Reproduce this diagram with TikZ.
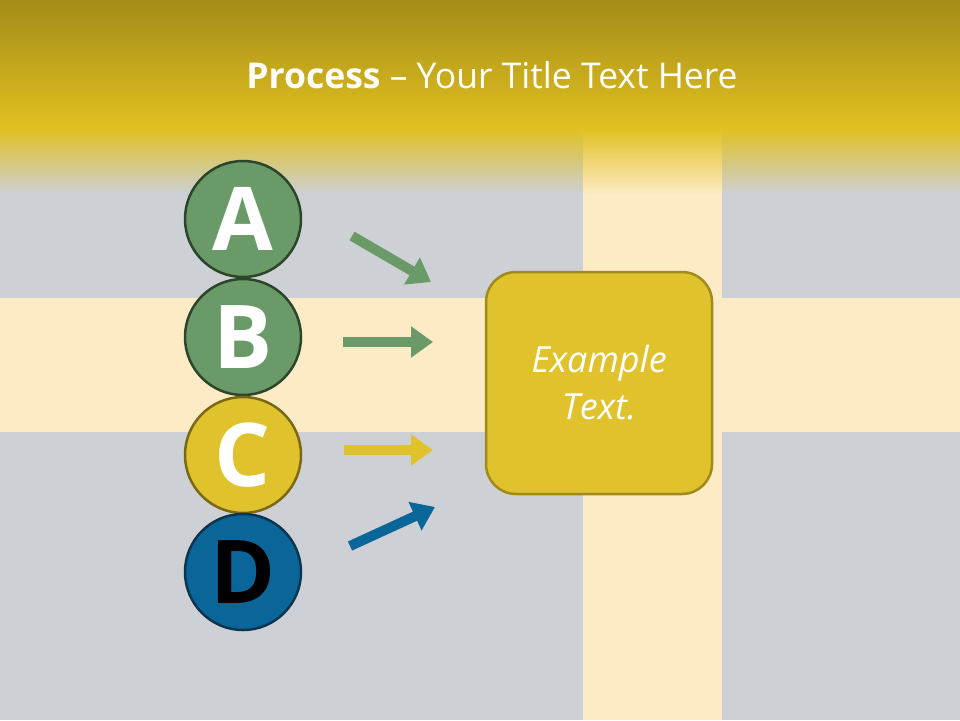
\documentclass[tikz,border=0pt]{standalone}
\usepackage{fontspec}
\setmainfont{Open Sans}
\usetikzlibrary{arrows.meta,fadings}
\definecolor{bggray}{HTML}{CDD1D5}
\definecolor{cream}{HTML}{FDEBC5}
\definecolor{hdtop}{HTML}{A08818}
\definecolor{hdbot}{HTML}{E0C020}
\definecolor{grn}{HTML}{6A9A68}
\definecolor{grnd}{HTML}{2C462C}
\definecolor{ylw}{HTML}{E0C22C}
\definecolor{ylwd}{HTML}{7A6812}
\definecolor{boxd}{HTML}{A08A1A}
\definecolor{blu}{HTML}{0A6699}
\definecolor{blud}{HTML}{0E3550}
\tikzfading[name=fadedown, top color=transparent!0, bottom color=transparent!100]
\tikzset{
  letter/.style={circle, minimum size=116pt, inner sep=0pt, line width=2.5pt,
    font=\fontsize{88}{88}\selectfont\bfseries},
  arr/.style={line width=10pt, -{Triangle[width=30pt,length=22pt]}},
}
\begin{document}
\begin{tikzpicture}[x=1pt,y=-1pt]
\useasboundingbox (0,0) rectangle (960,720);
\fill[bggray] (0,0) rectangle (960,720);
\fill[cream] (0,298) rectangle (960,432);
\fill[cream] (583,128) rectangle (722,720);
\shade[top color=hdtop, bottom color=hdbot] (-10,-10) rectangle (970,128);
\fill[hdbot, path fading=fadedown] (-40,127.5) rectangle (1000,194);
\node[text=white, font=\fontsize{35.5}{35.5}\selectfont] (title) at (492,75)
  {\textbf{Process} – Your Title Text Here};
\node[letter, fill=grn, draw=grnd, text=white] (A) at (243,219) {A};
\node[letter, fill=grn, draw=grnd, text=white] (B) at (243,337) {B};
\node[letter, fill=ylw, draw=ylwd, text=white] (C) at (243,455) {C};
\node[letter, fill=blu, draw=blud, text=black] (D) at (243,572) {D};
\node[draw=boxd, fill=ylw, line width=2.5pt, rounded corners=30pt,
  minimum width=226pt, minimum height=222pt, text=white, align=center,
  font=\fontsize{36}{47}\selectfont\itshape] (box) at (599,383) {Example\\Text.};
\coordinate (a1) at (352,236); \coordinate (a2) at (431,282);
\coordinate (b1) at (343,342); \coordinate (b2) at (433,342);
\coordinate (c1) at (344,450); \coordinate (c2) at (433,450);
\coordinate (d1) at (350,546); \coordinate (d2) at (435,507);
\draw[arr, grn] (a1) -- (a2);
\draw[arr, grn] (b1) -- (b2);
\draw[arr, ylw] (c1) -- (c2);
\draw[arr, blu] (d1) -- (d2);
\end{tikzpicture}
\end{document}
